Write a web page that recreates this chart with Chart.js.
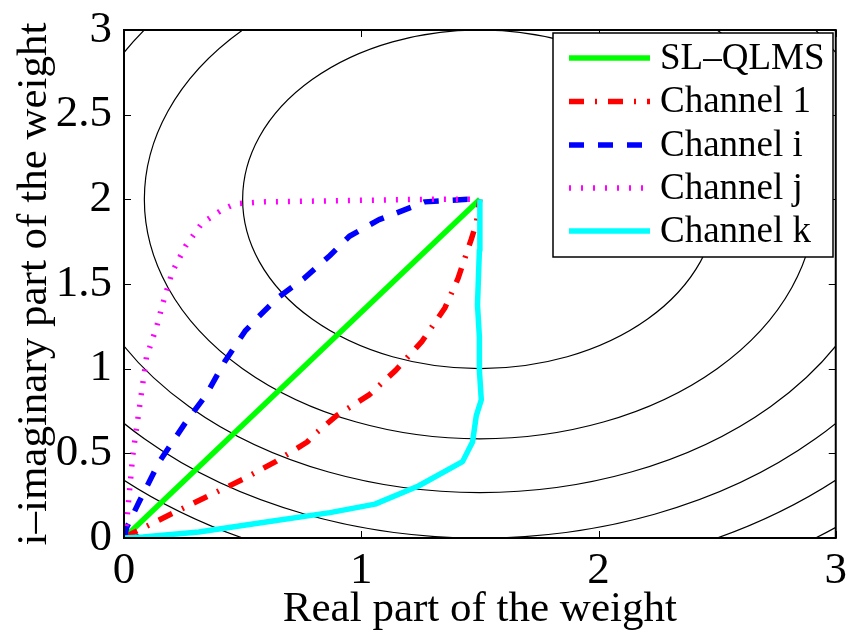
<!DOCTYPE html>
<html>
<head>
<meta charset="utf-8">
<script src="https://cdn.jsdelivr.net/npm/chart.js@4.4.0/dist/chart.umd.min.js"></script>
<style>
  body { margin: 0; background: #fff; }
  #wrap { width: 858px; height: 642px; }
</style>
</head>
<body>
<div id="wrap"><canvas id="chart" width="858" height="642"></canvas></div>
<script>
// trajectories
var slX = [0, 1.5];
var slY = [0, 2];

var ch1X = [0, 0.038, 0.204, 0.357, 0.502, 0.639, 0.772, 0.8, 0.896, 1.033, 1.145, 1.257, 1.353, 1.408, 1.464, 1.485, 1.5];
var ch1Y = [0, 0.03, 0.145, 0.249, 0.347, 0.451, 0.567, 0.608, 0.723, 0.845, 0.99, 1.163, 1.36, 1.533, 1.765, 1.86, 2];

var chiX = [0, 0.012, 0.066, 0.149, 0.26, 0.343, 0.427, 0.51, 0.564, 0.647, 0.759, 0.867, 0.95, 1.075, 1.216, 1.268, 1.448, 1.5];
var chiY = [0, 0.064, 0.22, 0.451, 0.683, 0.838, 1.047, 1.221, 1.302, 1.418, 1.533, 1.667, 1.782, 1.88, 1.956, 1.985, 2.0, 2];

var chjX = [0, 0.012, 0.037, 0.066, 0.095, 0.137, 0.162, 0.203, 0.26, 0.328, 0.411, 0.469, 0.593, 1.27, 1.5];
var chjY = [0, 0.104, 0.49, 0.78, 1.07, 1.244, 1.377, 1.57, 1.725, 1.858, 1.936, 1.974, 1.985, 2.0, 2];

var chkX = [0, 0.08, 0.315, 0.592, 0.868, 1.058, 1.241, 1.427, 1.469, 1.485, 1.506, 1.498, 1.498, 1.49, 1.498, 1.5];
var chkY = [0, 0.006, 0.035, 0.093, 0.15, 0.2, 0.307, 0.451, 0.567, 0.723, 0.816, 0.99, 1.186, 1.377, 1.7, 2];

// cost contours: levels of |w - centre|^2
var contourCentre = [1.5, 2];
var contourLevels = [1, 2, 3, 4, 5, 6];

var xTicks = [0, 1, 2, 3];
var yTicks = [0, 0.5, 1, 1.5, 2, 2.5, 3];

var FONT = "'Liberation Serif', 'Times New Roman', serif";

function pts(xs, ys) {
    return xs.map(function(x, i) { return { x: x, y: ys[i] }; });
}

function line(label, xs, ys, color, dash, order) {
    return {
        label: label,
        data: pts(xs, ys),
        borderColor: color,
        backgroundColor: color,
        borderWidth: 5.5,
        borderDash: dash,
        borderCapStyle: 'butt',
        borderJoinStyle: 'round',
        showLine: true,
        pointRadius: 0,
        tension: 0,
        order: order
    };
}

var contourPlugin = {
    id: 'contours',
    beforeDatasetsDraw: function(chart) {
        var ctx = chart.ctx, a = chart.chartArea;
        var xs = chart.scales.x, ys = chart.scales.y;
        var cx = xs.getPixelForValue(contourCentre[0]);
        var cy = ys.getPixelForValue(contourCentre[1]);
        ctx.save();
        ctx.beginPath();
        ctx.rect(a.left, a.top, a.right - a.left, a.bottom - a.top);
        ctx.clip();
        ctx.strokeStyle = '#000';
        ctx.lineWidth = 1.2;
        contourLevels.forEach(function(lv) {
            var r = Math.sqrt(lv);
            var rx = xs.getPixelForValue(contourCentre[0] + r) - cx;
            var ry = cy - ys.getPixelForValue(contourCentre[1] + r);
            ctx.beginPath();
            ctx.ellipse(cx, cy, rx, ry, 0, 0, Math.PI * 2);
            ctx.stroke();
        });
        ctx.restore();
    }
};

var framePlugin = {
    id: 'frame',
    afterDatasetsDraw: function(chart) {
        var ctx = chart.ctx, a = chart.chartArea;
        var xs = chart.scales.x, ys = chart.scales.y;
        var tl = 7;
        ctx.save();
        ctx.strokeStyle = '#000';
        ctx.lineWidth = 1;
        ctx.beginPath();
        xTicks.forEach(function(v) {
            var px = Math.round(xs.getPixelForValue(v)) + 0.5;
            ctx.moveTo(px, a.bottom); ctx.lineTo(px, a.bottom - tl);
            ctx.moveTo(px, a.top); ctx.lineTo(px, a.top + tl);
        });
        yTicks.forEach(function(v) {
            var py = Math.round(ys.getPixelForValue(v)) + 0.5;
            ctx.moveTo(a.left, py); ctx.lineTo(a.left + tl, py);
            ctx.moveTo(a.right, py); ctx.lineTo(a.right - tl, py);
        });
        ctx.stroke();
        ctx.lineWidth = 2;
        ctx.strokeRect(a.left, a.top, a.right - a.left, a.bottom - a.top);
        ctx.restore();
    }
};

// legend drawn by hand so the line samples keep their dash pattern
var legendPlugin = {
    id: 'boxLegend',
    afterDraw: function(chart) {
        var ctx = chart.ctx;
        var bx = 553, by = 33, bw = 280, bh = 224;
        var rows = [58, 101.5, 145, 188, 231];
        var sets = chart.data.datasets;
        ctx.save();
        ctx.fillStyle = '#fff';
        ctx.fillRect(bx, by, bw, bh);
        ctx.strokeStyle = '#000';
        ctx.lineWidth = 1.5;
        ctx.strokeRect(bx, by, bw, bh);
        ctx.font = '37px ' + FONT;
        ctx.textBaseline = 'middle';
        ctx.textAlign = 'left';
        sets.forEach(function(ds, i) {
            var y = rows[i];
            ctx.strokeStyle = ds.borderColor;
            ctx.lineWidth = ds.borderWidth;
            ctx.lineCap = 'butt';
            ctx.setLineDash(ds.borderDash || []);
            ctx.beginPath();
            ctx.moveTo(569, y);
            ctx.lineTo(650, y);
            ctx.stroke();
            ctx.setLineDash([]);
            ctx.fillStyle = '#000';
            ctx.fillText(ds.label, 660, y + 1);
        });
        ctx.restore();
    }
};

new Chart(document.getElementById('chart'), {
    type: 'scatter',
    data: {
        datasets: [
            line('SL–QLMS', slX, slY, '#00ff00', [], 5),
            line('Channel 1', ch1X, ch1Y, '#ff0000', [15, 11, 2, 11], 4),
            line('Channel i', chiX, chiY, '#0000ff', [15, 14], 3),
            line('Channel j', chjX, chjY, '#ff00ff', [2, 10], 2),
            line('Channel k', chkX, chkY, '#00ffff', [], 1)
        ]
    },
    options: {
        responsive: false,
        animation: false,
        devicePixelRatio: 1,
        layout: { padding: { top: 20, right: 11, left: 0, bottom: 0 } },
        plugins: {
            legend: { display: false },
            tooltip: { enabled: false }
        },
        scales: {
            x: {
                type: 'linear',
                min: 0,
                max: 3,
                afterFit: function(s) { s.height = 104; },
                afterBuildTicks: function(s) { s.ticks = xTicks.map(function(v) { return { value: v }; }); },
                grid: { display: false, drawTicks: false },
                border: { display: false },
                ticks: {
                    color: '#000',
                    padding: 11,
                    maxRotation: 0,
                    callback: function(v) { return String(v); },
                    font: { family: FONT, size: 45, lineHeight: 1 }
                },
                title: {
                    display: true,
                    text: 'Real part of the weight',
                    color: '#000',
                    padding: { top: 0, bottom: 6 },
                    font: { family: FONT, size: 43 }
                }
            },
            y: {
                type: 'linear',
                min: 0,
                max: 3,
                afterFit: function(s) { s.width = 124; },
                afterBuildTicks: function(s) { s.ticks = yTicks.map(function(v) { return { value: v }; }); },
                grid: { display: false, drawTicks: false },
                border: { display: false },
                ticks: {
                    color: '#000',
                    padding: 12,
                    callback: function(v) { return String(v); },
                    font: { family: FONT, size: 45, lineHeight: 0.8 }
                },
                title: {
                    display: true,
                    text: 'i–imaginary part of the weight',
                    color: '#000',
                    padding: { top: 9, bottom: 0 },
                    font: { family: FONT, size: 43 }
                }
            }
        }
    },
    plugins: [contourPlugin, framePlugin, legendPlugin]
});
</script>
</body>
</html>
